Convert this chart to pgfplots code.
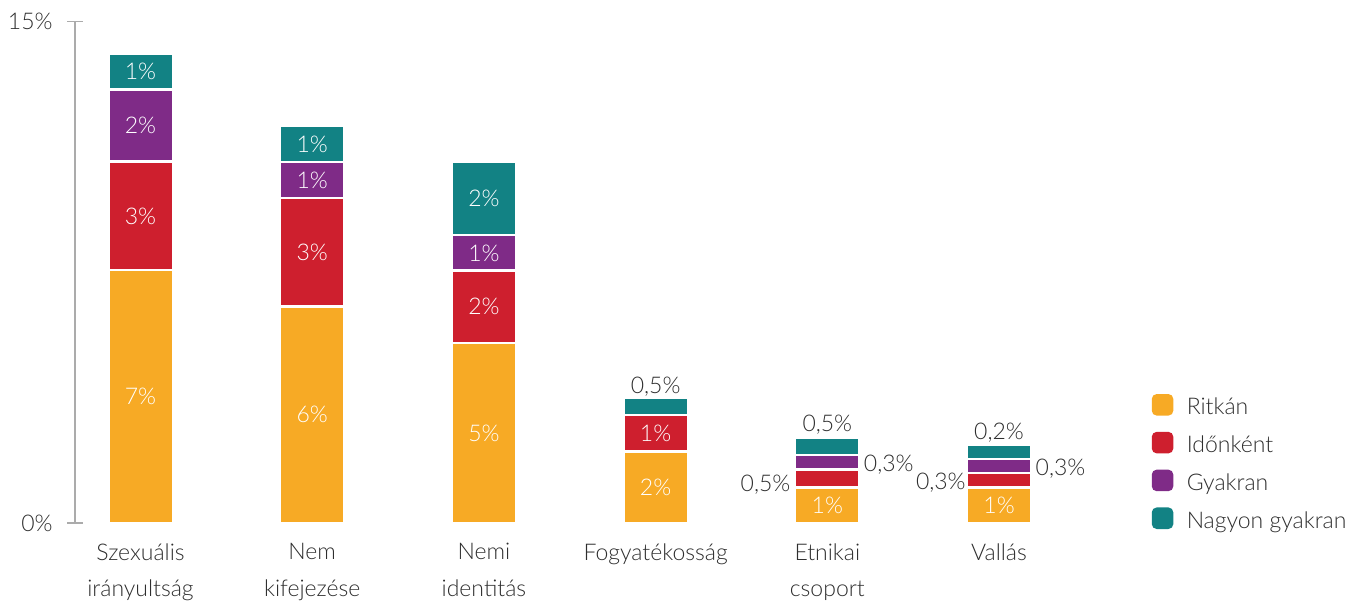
\documentclass[border=0pt]{standalone}
\usepackage{pgfplots}
\pgfplotsset{compat=1.18}
\usepackage{pgfplotstable}
\usepackage{fontspec}
\setmainfont{Lato}[UprightFont={* Light}]
\definecolor{cR}{HTML}{F7AA25}
\definecolor{cI}{HTML}{CE1F2E}
\definecolor{cG}{HTML}{7F2B87}
\definecolor{cN}{HTML}{128284}
\definecolor{txt}{HTML}{2E2E2E}
\definecolor{axgray}{HTML}{ABABAB}
\newcommand{\lf}{\fontsize{11.5}{18.3}\selectfont}
\pgfplotsset{sq legend/.style={legend image code/.code={\fill[##1,draw=none,rounded corners=2.5pt] (0pt,-5.4pt) rectangle (10.8pt,5.4pt);}}}

\pgfplotstableread{
x R I G N
0 7.56 3.25 2.16 1.06
1 6.48 3.24 1.08 1.07
2 5.39 2.16 1.06 2.18
3 2.14 1.09 0 0.52
4 1.06 0.54 0.44 0.52
5 1.06 0.43 0.43 0.42
}\datatable

\pgfplotstableread{
x y lab
0 3.78 7
0 9.185 3
0 11.89 2
0 13.50 1
1 3.24 6
1 8.10 3
1 10.26 1
1 11.335 1
2 2.695 5
2 6.47 2
2 8.08 1
2 9.70 2
3 1.07 2
3 2.685 1
4 0.53 1
5 0.53 1
}\whitelabels

\pgfplotstableread{
x y lab
3 4.13 0,5
3.640 1.19 0,5
4.358 1.79 0,3
4 2.98 0,5
4.661 1.24 0,3
5.358 1.68 0,3
5 2.75 0,2
}\darklabels

\begin{document}
\begin{tikzpicture}
\begin{axis}[
  name=main,
  at={(0,0)}, anchor=south west,
  scale only axis,
  width=504.95pt, height=250.75pt,
  xmin=-0.3815, xmax=5.5,
  ymin=0, ymax=15,
  enlargelimits=false,
  ybar stacked, bar width=32.2pt,
  axis y line*=left, axis x line*=bottom,
  x axis line style={draw=none},
  y axis line style={draw=axgray, line width=0.9pt, -},
  xtick={0,1,2,3,4,5},
  xticklabels={{Szexuális\\irányultság},{Nem\\kifejezése},{Nemi\\identitás},{Fogyatékosság},{Etnikai\\csoport},{Vallás}},
  xticklabel style={align=center, font=\lf, text=txt, anchor=north, inner sep=0pt, yshift=-6pt},
  xtick style={draw=none},
  ytick={0,15}, yticklabels={0\%,15\%},
  ytick style={draw=axgray, line width=0.9pt},
  major tick length=8pt, tick align=center,
  yticklabel style={font=\lf, text=txt, anchor=east, inner sep=0pt, xshift=-7pt},
  clip=false,
  legend cell align=left,
  legend style={at={(1.0662,0.2572)}, anchor=north west, draw=none, fill=none,
    inner sep=0pt, outer sep=0pt, row sep=8.1pt, font=\lf, text=txt,
    nodes={inner sep=0pt, text height=9.8pt, text depth=0pt},
    /tikz/every odd column/.append style={column sep=6.7pt}},
]
\addplot[fill=cR, draw=white, line width=1.2pt, sq legend] table[x=x,y=R] {\datatable};
\addlegendentry{Ritkán}
\addplot[fill=cI, draw=white, line width=1.2pt, sq legend] table[x=x,y=I] {\datatable};
\addlegendentry{Időnként}
\addplot[fill=cG, draw=white, line width=1.2pt, sq legend] table[x=x,y=G] {\datatable};
\addlegendentry{Gyakran}
\addplot[fill=cN, draw=white, line width=1.2pt, sq legend] table[x=x,y=N] {\datatable};
\addlegendentry{Nagyon gyakran}
\end{axis}
\begin{axis}[
  at={(0,0)}, anchor=south west,
  scale only axis,
  width=504.95pt, height=250.75pt,
  xmin=-0.3815, xmax=5.5,
  ymin=0, ymax=15,
  enlargelimits=false,
  hide axis, clip=false,
]
\addplot[draw=none, mark=none, nodes near coords={\pgfplotspointmeta\%}, point meta=explicit symbolic,
  every node near coord/.style={anchor=center, font=\lf, text=white, inner sep=0pt, text depth=0pt}]
  table[x=x, y=y, meta=lab] {\whitelabels};
\addplot[draw=none, mark=none, nodes near coords={\pgfplotspointmeta\%}, point meta=explicit symbolic,
  every node near coord/.style={anchor=center, font=\lf, text=txt, inner sep=0pt, text depth=0pt}]
  table[x=x, y=y, meta=lab] {\darklabels};
\end{axis}
\pgfresetboundingbox
\path[use as bounding box] (-37.5pt,-42pt) rectangle (645.5pt,261.5pt);
\end{tikzpicture}
\end{document}
